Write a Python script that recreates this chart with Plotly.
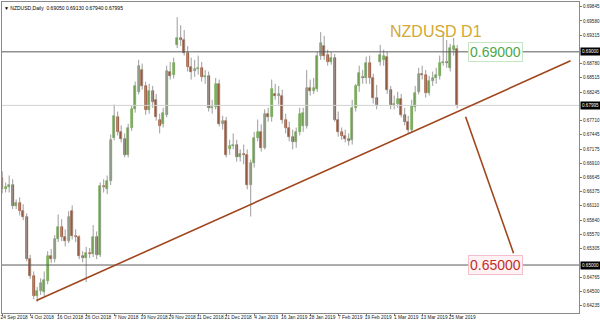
import plotly.graph_objects as go

# ---------------- data ----------------
date_labels = ["24 Sep 2018", "4 Oct 2018", "16 Oct 2018", "26 Oct 2018", "7 Nov 2018",
               "19 Nov 2018", "29 Nov 2018", "11 Dec 2018", "21 Dec 2018", "4 Jan 2019",
               "16 Jan 2019", "28 Jan 2019", "7 Feb 2019", "19 Feb 2019", "1 Mar 2019",
               "13 Mar 2019", "25 Mar 2019"]
date_label_bars = [0, 8, 16, 24, 32, 40, 48, 56, 64, 72, 80, 88, 96, 104, 112, 120, 128]

opens = [
    0.6664, 0.6642, 0.6646, 0.6651, 0.6610, 0.6616, 0.6601, 0.6591, 0.6511, 0.6479,
    0.6442, 0.6451, 0.6449, 0.6470, 0.6517, 0.6511, 0.6548, 0.6571, 0.6552, 0.6546,
    0.6601, 0.6554, 0.6552, 0.6517, 0.6513, 0.6522, 0.6520, 0.6552, 0.6518, 0.6648,
    0.6642, 0.6657, 0.6739, 0.6778, 0.6750, 0.6737, 0.6707, 0.6758, 0.6792, 0.6825,
    0.6866, 0.6835, 0.6790, 0.6827, 0.6810, 0.6773, 0.6765, 0.6782, 0.6863, 0.6857,
    0.6913, 0.6926, 0.6922, 0.6898, 0.6872, 0.6864, 0.6868, 0.6870, 0.6853, 0.6855,
    0.6795, 0.6797, 0.6840, 0.6765, 0.6771, 0.6717, 0.6724, 0.6726, 0.6702, 0.6709,
    0.6707, 0.6651, 0.6691, 0.6739, 0.6749, 0.6720, 0.6784, 0.6778, 0.6821, 0.6818,
    0.6818, 0.6773, 0.6758, 0.6741, 0.6730, 0.6749, 0.6760, 0.6761, 0.6833, 0.6827,
    0.6831, 0.6892, 0.6911, 0.6894, 0.6881, 0.6889, 0.6773, 0.6749, 0.6743, 0.6737,
    0.6735, 0.6795, 0.6835, 0.6853, 0.6850, 0.6879, 0.6850, 0.6814, 0.6881, 0.6885,
    0.6891, 0.6829, 0.6801, 0.6803, 0.6812, 0.6782, 0.6769, 0.6754, 0.6797, 0.6825,
    0.6859, 0.6857, 0.6823, 0.6846, 0.6850, 0.6855, 0.6879, 0.6881, 0.6870, 0.6903,
    0.69050]

highs = [
    0.6676, 0.6655, 0.6668, 0.6661, 0.6623, 0.6627, 0.6614, 0.6597, 0.6519, 0.6488,
    0.6459, 0.6475, 0.6488, 0.6526, 0.6530, 0.6556, 0.6595, 0.6586, 0.6567, 0.6601,
    0.6612, 0.6567, 0.6556, 0.6526, 0.6534, 0.6532, 0.6575, 0.6563, 0.6655, 0.6661,
    0.6668, 0.6745, 0.6801, 0.6788, 0.6762, 0.6747, 0.6765, 0.6799, 0.6844, 0.6885,
    0.6878, 0.6844, 0.6840, 0.6836, 0.6821, 0.6784, 0.6795, 0.6874, 0.6881, 0.6889,
    0.6965, 0.6950, 0.6941, 0.6911, 0.6889, 0.6885, 0.6893, 0.6881, 0.6866, 0.6863,
    0.6810, 0.6851, 0.6848, 0.6780, 0.6778, 0.6735, 0.6747, 0.6735, 0.6717, 0.6726,
    0.6717, 0.6698, 0.6750, 0.6773, 0.6764, 0.6792, 0.6795, 0.6848, 0.6840, 0.6836,
    0.6829, 0.6784, 0.6769, 0.6754, 0.6758, 0.6795, 0.6795, 0.6866, 0.6848, 0.6851,
    0.6900, 0.6937, 0.6930, 0.6904, 0.6900, 0.6896, 0.6788, 0.6758, 0.6754, 0.6747,
    0.6810, 0.6840, 0.6874, 0.6866, 0.6891, 0.6893, 0.6859, 0.6838, 0.6913, 0.6904,
    0.6900, 0.6836, 0.6818, 0.6825, 0.6821, 0.6795, 0.6780, 0.6810, 0.6836, 0.6870,
    0.6874, 0.6866, 0.6855, 0.6863, 0.6870, 0.6893, 0.6937, 0.6922, 0.6915, 0.6926,
    0.69130]

lows = [
    0.6634, 0.6636, 0.6636, 0.6605, 0.6605, 0.6593, 0.6584, 0.6507, 0.6474, 0.6436,
    0.6431, 0.6444, 0.6442, 0.6464, 0.6504, 0.6505, 0.6543, 0.6545, 0.6535, 0.6541,
    0.6548, 0.6543, 0.6511, 0.6505, 0.6468, 0.6513, 0.6515, 0.6511, 0.6515, 0.6636,
    0.6633, 0.6650, 0.6734, 0.6743, 0.6730, 0.6702, 0.6702, 0.6752, 0.6786, 0.6820,
    0.6829, 0.6782, 0.6784, 0.6795, 0.6771, 0.6747, 0.6758, 0.6777, 0.6848, 0.6850,
    0.6907, 0.6911, 0.6893, 0.6863, 0.6848, 0.6853, 0.6857, 0.6844, 0.6840, 0.6788,
    0.6784, 0.6792, 0.6760, 0.6754, 0.6702, 0.6707, 0.6717, 0.6694, 0.6694, 0.6689,
    0.6642, 0.6591, 0.6683, 0.6732, 0.6713, 0.6717, 0.6769, 0.6769, 0.6810, 0.6801,
    0.6765, 0.6747, 0.6732, 0.6717, 0.6720, 0.6743, 0.6750, 0.6756, 0.6818, 0.6821,
    0.6825, 0.6885, 0.6885, 0.6874, 0.6876, 0.6769, 0.6741, 0.6735, 0.6730, 0.6724,
    0.6726, 0.6788, 0.6825, 0.6840, 0.6840, 0.6840, 0.6803, 0.6792, 0.6874, 0.6874,
    0.6821, 0.6792, 0.6792, 0.6795, 0.6777, 0.6762, 0.6747, 0.6749, 0.6788, 0.6820,
    0.6848, 0.6814, 0.6818, 0.6836, 0.6840, 0.6848, 0.6874, 0.6870, 0.6863, 0.6893,
    0.67940]

closes = [
    0.6642, 0.6646, 0.6651, 0.6610, 0.6616, 0.6601, 0.6591, 0.6511, 0.6479, 0.6442,
    0.6451, 0.6466, 0.6472, 0.6517, 0.6511, 0.6548, 0.6571, 0.6552, 0.6546, 0.6590,
    0.6554, 0.6552, 0.6517, 0.6513, 0.6522, 0.6520, 0.6552, 0.6518, 0.6648, 0.6646,
    0.6657, 0.6735, 0.6780, 0.6750, 0.6737, 0.6707, 0.6758, 0.6792, 0.6836, 0.6874,
    0.6836, 0.6790, 0.6827, 0.6805, 0.6777, 0.6760, 0.6786, 0.6864, 0.6855, 0.6879,
    0.6926, 0.6922, 0.6898, 0.6872, 0.6863, 0.6868, 0.6870, 0.6853, 0.6855, 0.6795,
    0.6797, 0.6840, 0.6765, 0.6771, 0.6707, 0.6724, 0.6726, 0.6702, 0.6709, 0.6706,
    0.6651, 0.6691, 0.6739, 0.6749, 0.6720, 0.6784, 0.6778, 0.6831, 0.6818, 0.6820,
    0.6773, 0.6758, 0.6741, 0.6730, 0.6749, 0.6784, 0.6786, 0.6833, 0.6827, 0.6833,
    0.6892, 0.6917, 0.6892, 0.6881, 0.6889, 0.6773, 0.6749, 0.6743, 0.6737, 0.6733,
    0.6795, 0.6835, 0.6861, 0.6850, 0.6879, 0.6850, 0.6814, 0.6801, 0.6894, 0.6892,
    0.6829, 0.6801, 0.6803, 0.6812, 0.6782, 0.6769, 0.6754, 0.6799, 0.6823, 0.6859,
    0.6857, 0.6823, 0.6846, 0.6850, 0.6857, 0.6879, 0.6881, 0.6879, 0.6907, 0.6911,
    0.67995]

price_ticks = [0.69845, 0.69580, 0.69315, 0.68780, 0.68515, 0.68245, 0.67710, 0.67445,
               0.67175, 0.66910, 0.66645, 0.66375, 0.66110, 0.65840, 0.65570, 0.65305,
               0.64765, 0.64500, 0.64235]

resistance_level = 0.69000
support_level = 0.65000
last_price = 0.67995
trend_from = (9.8, 0.64334)
trend_to = (162.4, 0.68831)
projection_from = (132.4, 0.67784)
projection_to = (146.1, 0.65222)

header_text = "NZDUSD,Daily  0.69050 0.69130 0.67940 0.67995"
title_text = "NZDUSD D1"

# ---------------- figure ----------------
UP = "#62a23c"
DOWN = "#8e3f1c"
WICK = "#9c9c9c"
TREND = "#a0461c"
SMALL = "Liberation Sans"

bars = list(range(len(opens)))
body_base = [min(o, c) for o, c in zip(opens, closes)]
body_size = [abs(c - o) for o, c in zip(opens, closes)]
body_col = [UP if c >= o else DOWN for o, c in zip(opens, closes)]

wx, wy = [], []
for i, h, l in zip(bars, highs, lows):
    wx += [i, i, None]
    wy += [h, l, None]

fig = go.Figure()
fig.add_trace(go.Scatter(x=wx, y=wy, mode="lines", line=dict(color=WICK, width=1),
                         hoverinfo="skip", showlegend=False))
fig.add_trace(go.Bar(x=bars, y=body_size, base=body_base, width=0.66,
                     marker=dict(color=body_col, line=dict(color=body_col, width=0.6)),
                     showlegend=False))

line_kw = dict(xref="x domain", yref="y", x0=0, x1=1)
fig.add_shape(type="line", y0=resistance_level, y1=resistance_level,
              line=dict(color="#5a5a5a", width=1), **line_kw)
fig.add_shape(type="line", y0=support_level, y1=support_level,
              line=dict(color="#5a5a5a", width=1), **line_kw)
fig.add_shape(type="line", y0=last_price, y1=last_price,
              line=dict(color="#d2d2d2", width=1), **line_kw)
fig.add_shape(type="line", xref="x", yref="y", x0=trend_from[0], y0=trend_from[1],
              x1=trend_to[0], y1=trend_to[1], line=dict(color=TREND, width=1.6))
fig.add_shape(type="line", xref="x", yref="y", x0=projection_from[0], y0=projection_from[1],
              x1=projection_to[0], y1=projection_to[1], line=dict(color=TREND, width=1.6))

# price tags on the axis
for v in (resistance_level, last_price, support_level):
    fig.add_annotation(xref="paper", yref="y", x=1.0, y=v, xanchor="left", yanchor="middle",
                       text=f"{v:.5f}", showarrow=False, bgcolor="#000000",
                       font=dict(color="#ffffff", size=4.6, family=SMALL),
                       borderpad=1, xshift=1)

# labels in chart
fig.add_annotation(xref="paper", yref="paper", x=0.835, y=0.939, text=title_text,
                   showarrow=False, font=dict(color="#d3a834", size=16, family="Liberation Sans"))
fig.add_annotation(xref="paper", yref="y", x=0.903, y=resistance_level,
                   text=f"{resistance_level:.5f}", showarrow=False,
                   font=dict(color="#4aa84a", size=14, family="Liberation Sans"),
                   bgcolor="#ffffff", bordercolor="#c4e6c4", borderwidth=1, borderpad=1)
fig.add_annotation(xref="paper", yref="y", x=0.903, y=support_level,
                   text=f"{support_level:.5f}", showarrow=False,
                   font=dict(color="#c0302a", size=14, family="Liberation Sans"),
                   bgcolor="#fff2f5", bordercolor="#f3bfcc", borderwidth=1, borderpad=1)
fig.add_annotation(xref="paper", yref="paper", x=0.0, y=1.0, xanchor="left", yanchor="top",
                   text="\u25BC " + header_text, showarrow=False, xshift=0, yshift=-1,
                   font=dict(color="#000000", size=5, family=SMALL))

fig.update_layout(
    width=600, height=322,
    margin=dict(l=2, r=21, t=2, b=9, autoexpand=False),
    paper_bgcolor="#ffffff", plot_bgcolor="#ffffff",
    barmode="overlay", bargap=0, showlegend=False,
    xaxis=dict(range=[-0.05, 164.8], tickmode="array", tickvals=date_label_bars,
               ticktext=date_labels, ticks="outside", ticklen=2, tickcolor="#777",
               tickangle=0, automargin=False, ticklabeloverflow="allow",
               tickfont=dict(size=4.8, color="#222", family=SMALL),
               ticklabelshift=12, ticklabelstandoff=-3,
               showgrid=False, zeroline=False, showline=True, linecolor="#8a8a8a",
               linewidth=1, mirror=True, fixedrange=True),
    yaxis=dict(range=[0.64100, 0.69935], side="right", tickmode="array",
               tickvals=price_ticks, ticktext=[f"{v:.5f}" for v in price_ticks],
               ticks="outside", ticklen=2, tickcolor="#777", automargin=False,
               ticklabeloverflow="allow",
               tickfont=dict(size=4.6, color="#222", family=SMALL),
               showgrid=False, zeroline=False, showline=True, linecolor="#8a8a8a",
               linewidth=1, mirror=True, fixedrange=True),
)

fig.write_html("out.html")
